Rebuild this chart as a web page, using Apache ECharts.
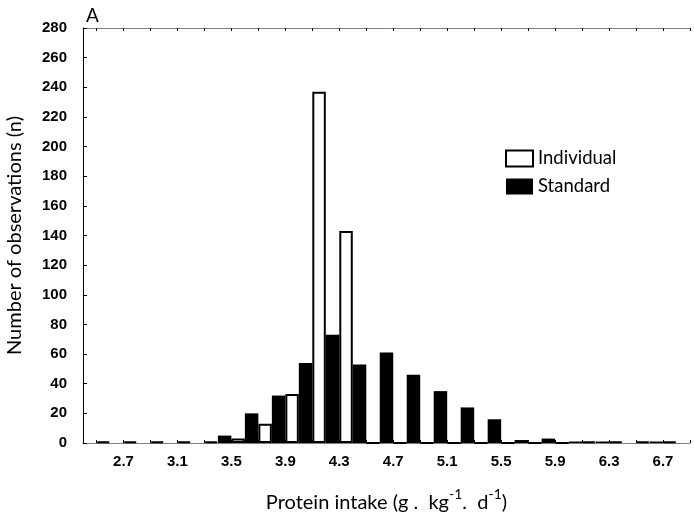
<!DOCTYPE html>
<html>
<head>
<meta charset="utf-8">
<script src="https://cdn.jsdelivr.net/npm/echarts@6/dist/echarts.min.js"></script>
<style>html,body{margin:0;padding:0;background:#fff;}#c{width:694px;height:517px;}</style>
</head>
<body>
<div id="c"></div>
<script>
// Bin edges (g.kg-1.d-1), 0.1 wide
var edges = ['2.4','2.5','2.6','2.7','2.8','2.9','3.0','3.1','3.2','3.3','3.4','3.5','3.6','3.7','3.8','3.9','4.0','4.1','4.2','4.3','4.4','4.5','4.6','4.7','4.8','4.9','5.0','5.1','5.2','5.3','5.4','5.5','5.6','5.7','5.8','5.9','6.0','6.1','6.2','6.3','6.4','6.5','6.6','6.7','6.8','6.9'];
// Tick labels shown on the x axis
var tickLabels = ['2.7','3.1','3.5','3.9','4.3','4.7','5.1','5.5','5.9','6.3','6.7'];
// Counts per bin (bin starting at edges[i]); null = no bar
var individual = [null,1,null,1,null,1,null,1,null,1,null,3,null,13,null,33,null,237,null,143,null,0,null,0,null,0,null,0,null,0,null,0,null,0,null,0,null,1,null,1,null,1,null,1,null];
var standard   = [0,null,0,null,0,null,0,null,0,null,5,null,20,null,32,null,54,null,73,null,53,null,61,null,46,null,35,null,24,null,16,null,2,null,3,null,1,null,1,null,0,null,1,null,0];
var yTicks = {min:0, max:280, interval:20};

var bins = edges.slice(0, -1).map(function(e, i){ return e + '-' + edges[i+1]; });

var chart = echarts.init(document.getElementById('c'), null, {renderer:'canvas'});
var lato = 'Lato, "Open Sans", sans-serif';
var arial = '"Liberation Sans", Arial, sans-serif';
chart.setOption({
  animation:false,
  backgroundColor:'#fff',
  title:{text:'A', left:86, top:6, padding:0, textStyle:{fontFamily:lato, fontSize:19, fontWeight:'normal', color:'#000'}},
  legend:{
    data:['Individual','Standard'], orient:'vertical', left:505, top:149, padding:0,
    itemWidth:27, itemHeight:16, itemGap:9, icon:'rect',
    textStyle:{fontFamily:lato, fontSize:18.5, color:'#000'}
  },
  grid:{left:83, right:4, top:28, bottom:74, containLabel:false, outerBoundsMode:'none'},
  xAxis:[
    {type:'category', data:bins, boundaryGap:true, show:false},
    {type:'category', data:edges, boundaryGap:false, position:'bottom',
     axisLine:{lineStyle:{color:'#808080', width:1}},
     axisTick:{inside:true, length:3, lineStyle:{color:'#000'}, interval:function(i){ return i % 2 === 1; }},
     axisLabel:{margin:11, fontFamily:arial, fontWeight:'bold', fontSize:15, color:'#000',
       interval:function(i, v){ return tickLabels.indexOf(v) >= 0; }},
     splitLine:{show:false},
     name:'{a|Protein intake (g .  kg}{s|-1}{a|.  d}{s|-1}{a|)}', nameLocation:'middle', nameGap:44,
     nameTextStyle:{fontFamily:lato, fontSize:20, color:'#000',
       rich:{a:{fontFamily:lato, fontSize:20, color:'#000', lineHeight:26, verticalAlign:'bottom'},
             s:{fontFamily:lato, fontSize:14, color:'#000', lineHeight:26, verticalAlign:'top'}}}
    },
    {type:'category', data:edges, boundaryGap:false, position:'top',
     axisLine:{lineStyle:{color:'#808080', width:1}},
     axisTick:{inside:true, length:3, lineStyle:{color:'#000'}, interval:function(i){ return i % 2 === 1; }},
     axisLabel:{show:false}, splitLine:{show:false}
    }
  ],
  yAxis:{type:'value', min:yTicks.min, max:yTicks.max, interval:yTicks.interval,
    axisLine:{show:true, lineStyle:{color:'#000', width:1}},
    axisTick:{show:true, inside:true, length:4, lineStyle:{color:'#000'}},
    axisLabel:{margin:16, fontFamily:arial, fontWeight:'bold', fontSize:15, color:'#000'},
    splitLine:{show:false},
    name:'Number of observations (n)', nameLocation:'middle', nameGap:58,
    nameTextStyle:{fontFamily:lato, fontSize:20, color:'#000'}
  },
  series:[
    {name:'Individual', type:'bar', xAxisIndex:0, data:individual, barGap:'-100%', barCategoryGap:'0%',
     itemStyle:{color:'#fff', borderColor:'#000', borderWidth:2}, z:2},
    {name:'Standard', type:'bar', xAxisIndex:0, data:standard, barGap:'-100%', barCategoryGap:'0%',
     itemStyle:{color:'#000', borderColor:'#000', borderWidth:0}, z:3}
  ]
});
</script>
</body>
</html>
